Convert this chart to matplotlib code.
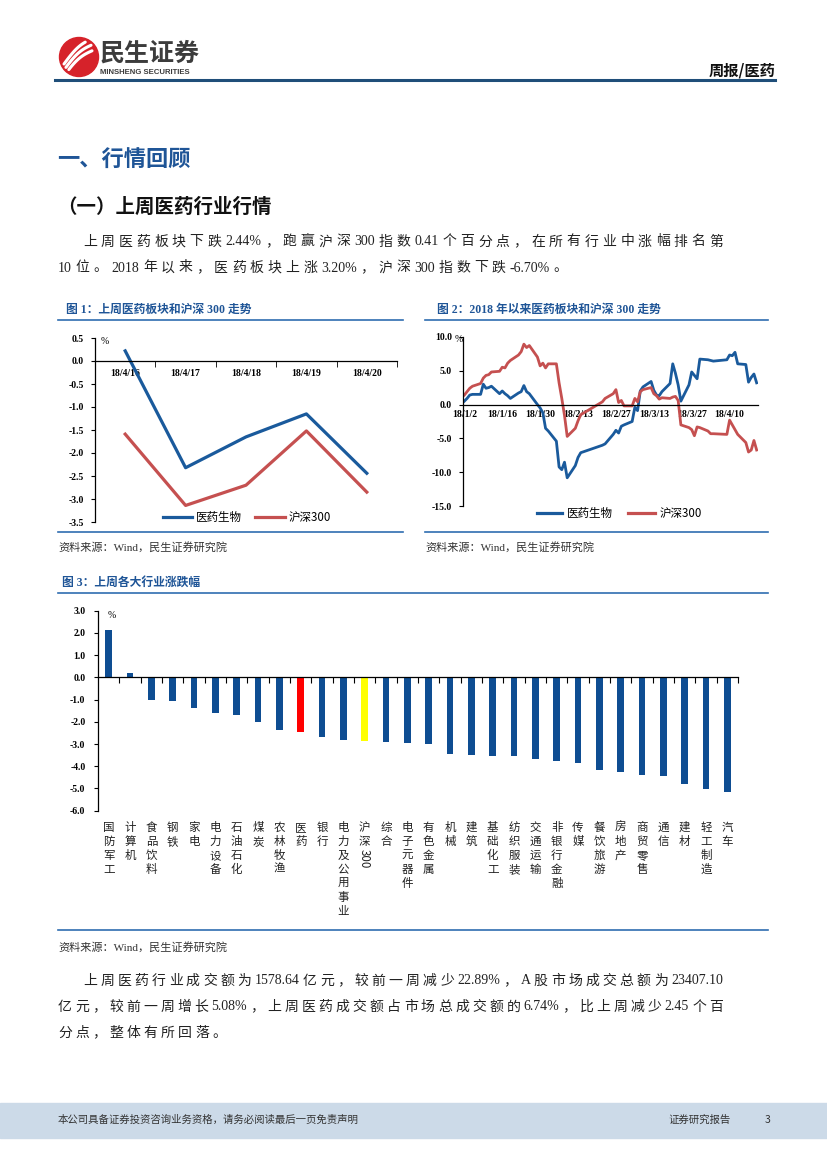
import re
import numpy as np
import pandas as pd
import matplotlib
matplotlib.use('Agg')
import matplotlib.pyplot as plt
import matplotlib.transforms as mtransforms
from matplotlib.patches import Rectangle, Circle
from matplotlib.lines import Line2D

# ---- data -------------------------------------------------------------
week_days = ['18/4/16', '18/4/17', '18/4/18', '18/4/19', '18/4/20']
week_med = [0.22, -2.32, -1.65, -1.15, -2.44]
week_hs300 = [-1.59, -3.14, -2.70, -1.52, -2.85]

ytd_dates = ['2018-01-02', '2018-01-03', '2018-01-04', '2018-01-05', '2018-01-08',
             '2018-01-09', '2018-01-10', '2018-01-11', '2018-01-12', '2018-01-15',
             '2018-01-16', '2018-01-17', '2018-01-18', '2018-01-19', '2018-01-22',
             '2018-01-23', '2018-01-24', '2018-01-25', '2018-01-26', '2018-01-29',
             '2018-01-30', '2018-01-31', '2018-02-01', '2018-02-02', '2018-02-05',
             '2018-02-06', '2018-02-07', '2018-02-08', '2018-02-09', '2018-02-12',
             '2018-02-13', '2018-02-14', '2018-02-22', '2018-02-23', '2018-02-26',
             '2018-02-27', '2018-02-28', '2018-03-01', '2018-03-02', '2018-03-05',
             '2018-03-06', '2018-03-07', '2018-03-08', '2018-03-09', '2018-03-12',
             '2018-03-13', '2018-03-14', '2018-03-15', '2018-03-16', '2018-03-19',
             '2018-03-20', '2018-03-21', '2018-03-22', '2018-03-23', '2018-03-26',
             '2018-03-27', '2018-03-28', '2018-03-29', '2018-03-30', '2018-04-02',
             '2018-04-03', '2018-04-04', '2018-04-09', '2018-04-10', '2018-04-11',
             '2018-04-12', '2018-04-13', '2018-04-16', '2018-04-17', '2018-04-18',
             '2018-04-19', '2018-04-20']
ytd_med = [0.5, 0.9, 1.4, 1.5, 1.5, 3.0, 2.4, 2.5, 2.7, 1.6,
           2.0, 1.6, 1.3, 0.9, 1.7, 1.9, 2.8, 1.9, 1.6, 0.0,
           -0.5, -1.2, -3.5, -3.9, -5.4, -9.2, -9.6, -8.5, -10.8, -9.0,
           -7.8, -7.1, -6.0, -5.8, -4.4, -3.8, -4.2, -3.2, -3.0, -2.5,
           -0.4, -0.9, 2.0, 2.6, 3.4, 2.1, 1.4, 1.3, 1.9, 3.1,
           6.0, 4.6, 2.9, 0.5, 2.9, 4.8, 4.3, 3.8, 6.7, 6.6,
           6.5, 6.4, 6.6, 7.3, 7.2, 7.7, 6.0, 5.9, 3.3, 4.0,
           4.5, 3.2]
ytd_hs300 = [1.4, 1.9, 2.4, 2.7, 3.1, 3.9, 4.3, 4.4, 4.8, 4.9,
             5.5, 5.4, 6.1, 6.5, 7.3, 7.8, 8.9, 8.4, 8.7, 7.0,
             5.7, 6.1, 5.4, 6.0, 6.0, 3.2, 0.9, -1.6, -4.7, -3.5,
             -2.4, -1.5, 0.4, 0.9, 1.6, 2.2, 0.3, 0.6, -0.2, -0.2,
             0.9, 0.4, 1.9, 2.2, 2.5, 1.6, 1.3, 0.8, 1.0, 0.9,
             1.1, 1.2, 0.6, -3.0, -3.4, -3.7, -4.6, -3.3, -3.4, -3.9,
             -4.3, -4.3, -4.4, -2.3, -3.0, -3.7, -4.4, -5.6, -7.0, -6.7,
             -5.3, -6.7]

industries = ['国防军工', '计算机', '食品饮料', '钢铁', '家电', '电力设备', '石油石化',
              '煤炭', '农林牧渔', '医药', '银行', '电力及公用事业', '沪深300', '综合',
              '电子元器件', '有色金属', '机械', '建筑', '基础化工', '纺织服装',
              '交通运输', '非银行金融', '传媒', '餐饮旅游', '房地产', '商贸零售',
              '通信', '建材', '轻工制造', '汽车']
ind_change = [2.11, 0.20, -1.02, -1.06, -1.38, -1.62, -1.68,
              -2.02, -2.38, -2.44, -2.70, -2.82, -2.85, -2.92,
              -2.94, -3.01, -3.46, -3.49, -3.54, -3.54,
              -3.69, -3.78, -3.84, -4.18, -4.27, -4.38,
              -4.42, -4.78, -5.02, -5.16]

# ---- page helpers -----------------------------------------------------
W, H = 827, 1169
SERIF = ['Liberation Serif', 'Noto Sans CJK SC']
SANS = ['Noto Sans CJK SC', 'DejaVu Sans']
BLUE = '#1F5597'
LINE_BLUE = '#2F6DB0'
BAR_BLUE = '#0E4D92'
MED_BLUE = '#1A5A9C'
HS_RED = '#C55050'

plt.rcParams['font.family'] = SERIF
plt.rcParams['axes.linewidth'] = 0.9


def fx(x):
    return x / W


def fy(y):
    return 1 - y / H


def box(left, top, right, bottom):
    return [fx(left), fy(bottom), (right - left) / W, (bottom - top) / H]


def hline(fig, y, x0, x1, color=LINE_BLUE, lw=1.2):
    fig.add_artist(Line2D([fx(x0), fx(x1)], [fy(y), fy(y)],
                          transform=fig.transFigure, color=color, lw=lw))


def text_line(fig, s, x0, y, size=10, x1=None, gap=2.0):
    """Draw one paragraph line token by token, optionally justified to x1."""
    tokens = re.findall(r'[A-Za-z0-9.%\-]+|\S', s)
    rend = fig.canvas.get_renderer()
    arts, widths = [], []
    for t in tokens:
        a = fig.text(0, fy(y), t, fontsize=size, family=SERIF, va='center',
                     color='#222222')
        widths.append(a.get_window_extent(rend).width)
        arts.append(a)
    if x1 is not None:
        gap = (x1 - x0 - sum(widths)) / (len(tokens) - 1)
    x = x0
    for a, w in zip(arts, widths):
        a.set_x(fx(x))
        x += w + gap
    return gap


def style_ticks(ax, size=7):
    for lab in ax.get_xticklabels() + ax.get_yticklabels():
        lab.set_fontweight('bold')
        lab.set_fontsize(size)
        lab.set_family(SERIF)


fig = plt.figure(figsize=(W / 100, H / 100), dpi=100)

# ---- header -----------------------------------------------------------
logo = fig.add_axes(box(58, 36, 100, 78))
logo.set_xlim(0, 42)
logo.set_ylim(0, 42)
logo.set_aspect('equal')
logo.axis('off')
logo.add_patch(Circle((21, 21), 19.5, color='#D6222A'))
for off in (-6, 0, 6):
    xs = np.linspace(6, 34, 30)
    ys = 8 + off + (xs - 6) * 0.9 + 4 * np.sin((xs - 6) / 28 * np.pi)
    mask = (xs - 21) ** 2 + (ys - 21) ** 2 < 17 ** 2
    logo.plot(xs[mask], ys[mask], color='white', lw=2.2, solid_capstyle='round')

fig.text(fx(100), fy(54), '民生证券', fontsize=18, fontweight='bold', family=SANS,
         color='#3C3C3C', va='center')
fig.text(fx(100), fy(72), 'MINSHENG SECURITIES', fontsize=5.6, fontweight='bold',
         family=['Liberation Sans', 'DejaVu Sans'], color='#3C3C3C', va='center')
fig.text(fx(776), fy(71), '周报/医药', fontsize=11, fontweight='bold', family=SANS,
         color='#111111', ha='right', va='center')
hline(fig, 80, 55, 775, color='#1F4E79', lw=2.2)

# ---- headings and paragraph -------------------------------------------
fig.text(fx(57), fy(160), '一、行情回顾', fontsize=16, fontweight='bold',
         family=SANS, color=BLUE, va='center')
fig.text(fx(57), fy(207), '（一）上周医药行业行情', fontsize=14, fontweight='bold',
         family=SANS, color='#111111', va='center')
g = text_line(fig, '上周医药板块下跌 2.44%，跑赢沪深 300 指数 0.41 个百分点，在所有行业中涨幅排名第',
              83, 242, x1=723)
text_line(fig, '10 位。2018 年以来，医药板块上涨 3.20%，沪深 300 指数下跌-6.70%。',
          58, 268, gap=g)

# ---- figure 1 ---------------------------------------------------------
fig.text(fx(66), fy(310), '图 1：上周医药板块和沪深 300 走势', fontsize=8.5,
         fontweight='bold', color=BLUE, va='center')
hline(fig, 319.5, 58, 403)
ax1 = fig.add_axes(box(95, 338, 397, 522))
xi = np.arange(len(week_days))
ax1.plot(xi, week_med, color=MED_BLUE, lw=2.3)
ax1.plot(xi, week_hs300, color=HS_RED, lw=2.3)
ax1.set_xlim(-0.5, len(week_days) - 0.5)
ax1.set_ylim(-3.5, 0.5)
ax1.spines[['top', 'right']].set_visible(False)
ax1.spines['bottom'].set_position(('data', 0))
ax1.set_yticks(np.arange(-3.5, 0.51, 0.5))
ax1.set_yticklabels([f'{v:.1f}' for v in np.arange(-3.5, 0.51, 0.5)])
ax1.set_xticks(xi)
ax1.set_xticklabels(week_days)
ax1.set_xticks(np.arange(0.5, len(week_days), 1.0), minor=True)
ax1.tick_params(axis='x', which='major', length=0, pad=6)
ax1.tick_params(axis='x', which='minor', length=4, direction='out')
ax1.tick_params(axis='y', length=3, direction='out', pad=5)
style_ticks(ax1)
fig.text(fx(101), fy(342), '%', fontsize=7, va='center')
for (x0, x1, tx, col, lab) in [(163, 192, 196, MED_BLUE, '医药生物'),
                               (255, 285, 289, HS_RED, '沪深300')]:
    fig.add_artist(Line2D([fx(x0), fx(x1)], [fy(517), fy(517)],
                          transform=fig.transFigure, color=col, lw=2.3))
    fig.text(fx(tx), fy(517), lab, fontsize=8.3, family=SANS, va='center')
hline(fig, 531.5, 58, 403)
fig.text(fx(58), fy(547), '资料来源：Wind，民生证券研究院', fontsize=8, color='#333333',
         va='center')

# ---- figure 2 ---------------------------------------------------------
fig.text(fx(437), fy(310), '图 2：2018 年以来医药板块和沪深 300 走势', fontsize=8.5,
         fontweight='bold', color=BLUE, va='center')
hline(fig, 319.5, 425, 768)
ax2 = fig.add_axes(box(463, 336.7, 758, 506.3))
dts = pd.to_datetime(ytd_dates)
ax2.plot(dts, ytd_med, color=MED_BLUE, lw=2.0)
ax2.plot(dts, ytd_hs300, color=HS_RED, lw=2.0)
ax2.set_xlim(dts[0] - pd.Timedelta(hours=12), dts[-1] + pd.Timedelta(hours=12))
ax2.set_ylim(-15, 10)
ax2.spines[['top', 'right']].set_visible(False)
ax2.spines['bottom'].set_position(('data', 0))
ax2.set_yticks(np.arange(-15, 10.1, 5))
ax2.set_yticklabels([f'{v:.1f}' for v in np.arange(-15, 10.1, 5)])
tick_days = pd.date_range('2018-01-02', periods=8, freq='14D')
ax2.set_xticks(tick_days)
ax2.set_xticklabels([f'{d.year % 100}/{d.month}/{d.day}' for d in tick_days])
ax2.tick_params(axis='x', length=0, pad=4)
ax2.tick_params(axis='y', length=3, direction='out', pad=5)
style_ticks(ax2)
fig.text(fx(455), fy(340), '%', fontsize=7, va='center')
for (x0, x1, tx, col, lab) in [(537, 562, 567, MED_BLUE, '医药生物'),
                               (628, 655, 660, HS_RED, '沪深300')]:
    fig.add_artist(Line2D([fx(x0), fx(x1)], [fy(513), fy(513)],
                          transform=fig.transFigure, color=col, lw=2.3))
    fig.text(fx(tx), fy(513), lab, fontsize=8.3, family=SANS, va='center')
hline(fig, 531.5, 425, 768)
fig.text(fx(425), fy(547), '资料来源：Wind，民生证券研究院', fontsize=8, color='#333333',
         va='center')

# ---- figure 3 ---------------------------------------------------------
fig.text(fx(62), fy(583), '图 3：上周各大行业涨跌幅', fontsize=8.5, fontweight='bold',
         color=BLUE, va='center')
hline(fig, 592.5, 58, 768)
ax3 = fig.add_axes(box(98, 610.7, 738, 810.7))
xb = np.arange(len(industries))
colors = ['#FF0000' if n == '医药' else '#FFFF00' if n == '沪深300' else BAR_BLUE
          for n in industries]
ax3.bar(xb, ind_change, width=0.32, color=colors)
ax3.set_xlim(-0.5, len(industries) - 0.5)
ax3.set_ylim(-6, 3)
ax3.spines[['top', 'right']].set_visible(False)
ax3.spines['bottom'].set_position(('data', 0))
ax3.set_yticks(np.arange(-6, 3.1, 1))
ax3.set_yticklabels([f'{v:.1f}' for v in np.arange(-6, 3.1, 1)])
ax3.set_xticks(np.arange(0.5, len(industries), 1.0))
ax3.set_xticklabels([])
ax3.tick_params(axis='x', length=4, direction='out')
ax3.tick_params(axis='y', length=3, direction='out', pad=6)
style_ticks(ax3)
fig.text(fx(108), fy(615), '%', fontsize=7, va='center')
lab_tr = mtransforms.blended_transform_factory(ax3.transData, fig.transFigure)
for i, name in enumerate(industries):
    if name == '沪深300':
        ax3.text(i, fy(821), '沪\n深', transform=lab_tr, ha='center', va='top',
                 fontsize=8.3, family=SANS, linespacing=1.1, color='#222222')
        ax3.text(i, fy(849), '300', transform=lab_tr, ha='center', va='top',
                 rotation=270, fontsize=8.3, family=SANS, color='#222222')
    else:
        ax3.text(i, fy(821), '\n'.join(name), transform=lab_tr, ha='center',
                 va='top', fontsize=8.3, family=SANS, linespacing=1.1,
                 color='#222222')
hline(fig, 930, 58, 768)
fig.text(fx(58), fy(947), '资料来源：Wind，民生证券研究院', fontsize=8, color='#333333',
         va='center')

# ---- closing paragraph ------------------------------------------------
g2 = text_line(fig, '上周医药行业成交额为1578.64亿元，较前一周减少22.89%，A股市场成交总额为23407.10',
               83, 981, x1=723)
text_line(fig, '亿元，较前一周增长 5.08%，上周医药成交额占市场总成交额的 6.74%，比上周减少 2.45 个百',
          58, 1007, x1=723)
text_line(fig, '分点，整体有所回落。', 58, 1033, gap=g2)

# ---- footer -----------------------------------------------------------
fig.add_artist(Rectangle((0, fy(1138)), 1, (1138 - 1103) / H, transform=fig.transFigure,
                         color='#CCDAE8', zorder=0))
fig.text(fx(58), fy(1120), '本公司具备证券投资咨询业务资格，请务必阅读最后一页免责声明',
         fontsize=7.5, family=SANS, color='#333333', va='center')
fig.text(fx(668), fy(1120), '证券研究报告', fontsize=7.5, family=SANS, color='#333333',
         va='center')
fig.text(fx(765), fy(1120), '3', fontsize=7.5, family=SANS, color='#333333', va='center')

fig.savefig('out.png', dpi=100)
